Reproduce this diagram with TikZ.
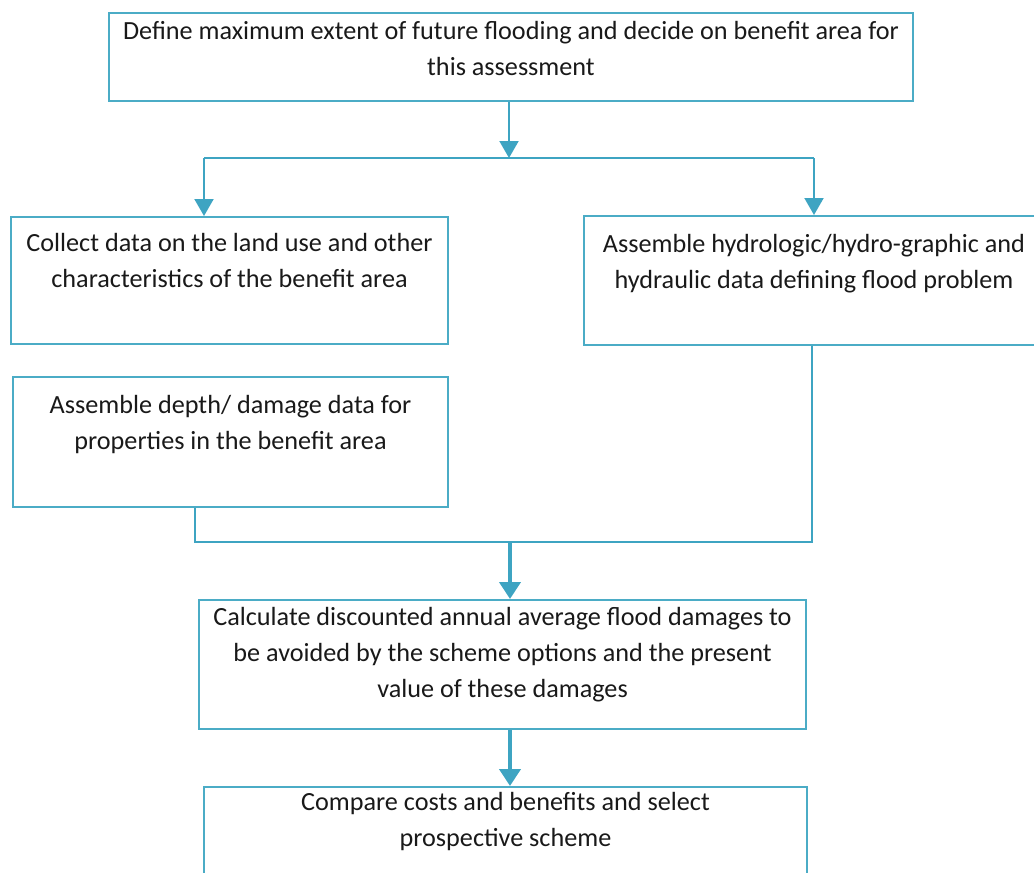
\documentclass[tikz,border=0pt]{standalone}
\usepackage{fontspec}
\setmainfont{Carlito}
\usetikzlibrary{arrows.meta}
\definecolor{flowblue}{RGB}{75,172,198}
\definecolor{flowline}{RGB}{62,164,194}
\begin{document}
\begin{tikzpicture}[x=.5pt,y=-.5pt,line cap=butt,line join=miter,
  stepbox/.style n args={3}{draw=flowblue,line width=1pt,inner sep=0pt,anchor=north west,
    text=black!90,font=\fontsize{13.1}{18}\selectfont,
    execute at begin node={\begin{minipage}[c][#2][t]{#1}\centering\rule{0pt}{#3}},
    execute at end node={\end{minipage}}},
  link/.style={draw=flowline,line width=1pt},
  thinarrow/.style={link,-{Triangle[width=9.5pt,length=8.5pt]}},
  thickarrow/.style={draw=flowline,line width=2pt,-{Triangle[width=10.5pt,length=8.5pt]}}]
\clip (0,0) rectangle (1034,873);
% Kästen, oben links verankert
\node[stepbox={402pt}{44pt}{13pt}] (define) at (108,12)
  {Define maximum extent of future flooding and decide on benefit area for\\ this assessment};
\node[stepbox={218.5pt}{63.5pt}{17pt}] (collect) at (10,216)
  {Collect data on the land use and other\\ characteristics of the benefit area};
\node[stepbox={230pt}{64.5pt}{18pt}] (hydro) at (583,215)
  {Assemble hydrologic/hydro-graphic and\\ hydraulic data defining flood problem};
\node[stepbox={217.5pt}{65pt}{18pt}] (depth) at (12,376)
  {Assemble depth/ damage data for\\ properties in the benefit area};
\node[stepbox={303.5pt}{64.5pt}{12.5pt}] (calc) at (198,599)
  {Calculate discounted annual average flood damages to\\ be avoided by the scheme options and the present\\ value of these damages};
\node[stepbox={301.5pt}{65pt}{11.5pt}] (compare) at (203,786)
  {Compare costs and benefits and select\\ prospective scheme};
% Verzweigung unter dem ersten Kasten
\coordinate (split) at (509,158);
\coordinate (splitL) at (204,158);
\coordinate (splitR) at (814,158);
\draw[thinarrow] (define.south -| split) -- (split);
\draw[link] (splitL) -- (splitR);
\draw[thinarrow] (splitL) -- (splitL |- collect.north);
\draw[thinarrow] (splitR) -- (splitR |- hydro.north);
% Zusammenführung und die letzten beiden Schritte
\coordinate (joinL) at (195,542);
\coordinate (joinR) at (812,542);
\coordinate (join) at (510,542);
\draw[link] (depth.south -| joinL) -- (joinL) -- (joinR) -- (joinR |- hydro.south);
\draw[thickarrow] (join) -- (join |- calc.north);
\draw[thickarrow] (calc.south -| join) -- (compare.north -| join);
\end{tikzpicture}
\end{document}
